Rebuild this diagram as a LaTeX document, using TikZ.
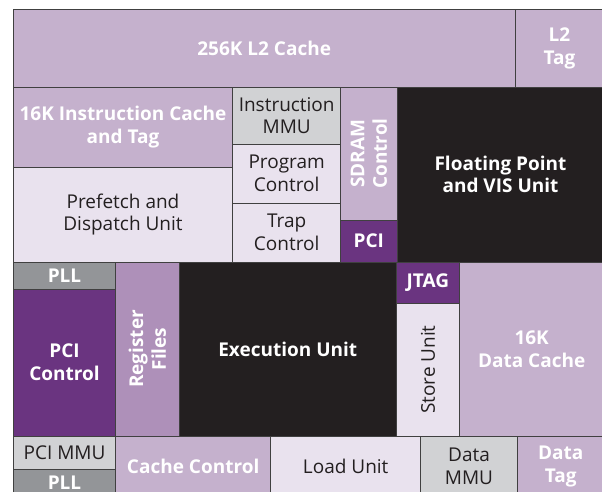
\documentclass[tikz,border=0pt]{standalone}
\usepackage{fontspec}
\setmainfont{Open Sans}
\definecolor{lilac}{HTML}{C5B1CD}
\definecolor{pale}{HTML}{E9E2EE}
\definecolor{lgray}{HTML}{D1D2D4}
\definecolor{dgray}{HTML}{939598}
\definecolor{ink}{HTML}{231F20}
\definecolor{violet}{HTML}{6A3480}
\definecolor{regc}{HTML}{AE90B9}
\definecolor{edge}{HTML}{404040}
\tikzset{
  cell/.style={draw=edge, line width=0.9pt, inner sep=0pt, outer sep=0pt, align=center,
    font=\fontsize{19}{22.7}\selectfont},
  wb/.style={text=white, font=\fontsize{19}{22.7}\selectfont\bfseries},
  dk/.style={text=ink},
  rlabel/.style={rotate=90, align=center, inner sep=0pt}
}
% #1 x1, #2 y1, #3 x2, #4 y2, #5 name, #6 style, #7 text
\newcommand\blk[7]{\node[cell,#6,minimum width={#3-(#1)},minimum height={#4-(#2)}] (#5) at ({(#1+#3)/2},{(#2+#4)/2}) {#7};}
\begin{document}
\begin{tikzpicture}[x=1pt,y=-1pt]
\useasboundingbox (0,0) rectangle (602,492);
\fill[white] (0,0) rectangle (602,492);
\clip (0,0) rectangle (602,492);
% top row
\blk{13.3}{9.5}{515}{87}{l2}{fill=lilac,wb}{256K L2 Cache}
\blk{515}{9.5}{604}{87}{l2tag}{fill=lilac,wb}{L2\\Tag}
% upper block
\blk{13.3}{87}{232.7}{167}{icache}{fill=lilac,wb}{16K Instruction Cache\\and Tag}
\blk{13.3}{167}{232.7}{262}{prefetch}{fill=pale,dk}{Prefetch and\\Dispatch Unit}
\blk{232.7}{87}{340.7}{144}{immu}{fill=lgray,dk}{Instruction\\MMU}
\blk{232.7}{144}{340.7}{203}{prog}{fill=pale,dk}{Program\\Control}
\blk{232.7}{203}{340.7}{262}{trap}{fill=pale,dk}{Trap\\Control}
\blk{340.7}{87}{397}{220}{sdram}{fill=lilac}{}
\node[rlabel,wb] (sdramt) at (sdram.center) {SDRAM\\Control};
\blk{340.7}{220}{397}{262}{pcitop}{fill=violet,wb}{PCI}
\blk{397}{87}{604}{262}{fpu}{fill=ink,wb}{Floating Point\\and VIS Unit}
% middle block
\blk{13.3}{262}{115.7}{289}{pll1}{fill=dgray,wb}{PLL}
\blk{13.3}{289}{115.7}{436}{pcictl}{fill=violet,wb}{PCI\\Control}
\blk{115.7}{262}{179}{436}{regf}{fill=regc}{}
\node[rlabel,wb] (regft) at (regf.center) {Register\\Files};
\blk{179}{262}{396.5}{436}{exec}{fill=ink,wb}{Execution Unit}
\blk{396.5}{262}{459.3}{303.3}{jtag}{fill=violet,wb}{JTAG}
\blk{396.5}{303.3}{459.3}{436}{store}{fill=pale}{}
\node[rlabel,dk,font=\fontsize{19}{22.7}\selectfont] (storet) at (store.center) {Store Unit};
\blk{459.3}{262}{604}{436}{dcache}{fill=lilac,wb}{16K\\Data Cache}
% bottom row
\blk{13.3}{436}{115.7}{469.3}{pcimmu}{fill=lgray,dk}{PCI MMU}
\blk{13.3}{469.3}{115.7}{497}{pll2}{fill=dgray,wb}{PLL}
\blk{115.7}{436}{270.7}{497}{cachectl}{fill=lilac,wb}{Cache Control}
\blk{270.7}{436}{420.7}{497}{load}{fill=pale,dk}{Load Unit}
\blk{420.7}{436}{517.3}{497}{dmmu}{fill=lgray,dk}{Data\\MMU}
\blk{517.3}{436}{604}{497}{dtag}{fill=lilac,wb}{Data\\Tag}
\end{tikzpicture}
\end{document}
